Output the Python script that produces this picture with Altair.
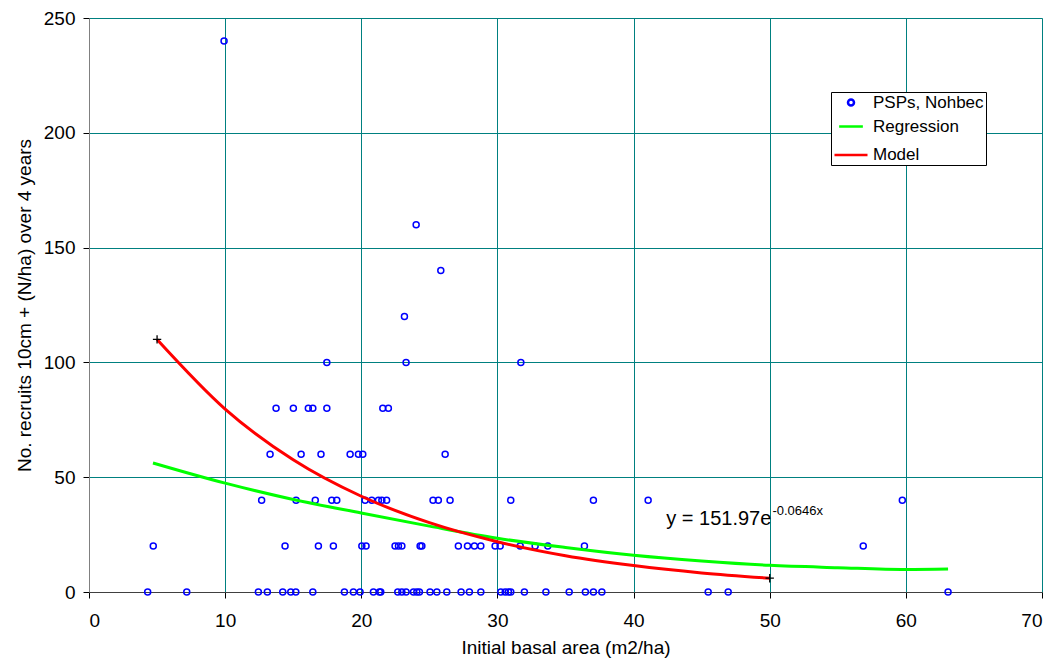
import altair as alt
import pandas as pd

# ---- scatter data: x values (basal area) grouped by recruit level ----
x_at_0 = [4.31, 7.18, 12.44, 13.10, 14.23, 14.82, 15.19, 16.44, 18.76, 19.42, 19.91,
          20.89, 21.33, 21.43, 22.68, 22.98, 23.29, 23.83, 24.08, 24.27, 25.05, 25.55,
          26.28, 27.33, 27.94, 28.78, 30.25, 30.57, 30.81, 30.98, 31.98, 33.56, 35.27,
          36.46, 37.05, 37.67, 45.48, 46.95, 63.1]
x_at_20 = [4.72, 14.40, 16.85, 17.95, 20.04, 20.35, 22.48, 22.73, 22.98, 24.32, 24.45,
           27.13, 27.80, 28.31, 28.78, 29.83, 30.20, 31.67, 32.77, 33.70, 36.39, 56.87]
x_at_40 = [12.68, 15.21, 16.62, 17.83, 18.20, 20.28, 20.77, 21.26, 21.51, 21.86, 25.27,
           25.66, 26.52, 30.98, 37.05, 41.07, 59.74]
x_at_60 = [13.30, 15.58, 17.04, 19.18, 19.79, 20.11, 26.16]
x_at_80 = [13.74, 15.01, 16.11, 16.44, 17.47, 21.58, 21.99]
x_at_100 = [17.47, 23.29, 31.72]
x_at_120 = [23.17]
x_at_140 = [25.84]
x_at_160 = [24.03]
x_at_240 = [9.92]

levels = [0, 20, 40, 60, 80, 100, 120, 140, 160, 240]
groups = [x_at_0, x_at_20, x_at_40, x_at_60, x_at_80, x_at_100, x_at_120, x_at_140,
          x_at_160, x_at_240]

# ---- regression curve (green) ----
reg_x = [4.7, 10, 15, 20, 25, 30, 35, 40, 45, 50, 55, 60, 63.1]
reg_y = [56.2, 47.4, 40.3, 34.4, 28.7, 23.4, 19.4, 16.0, 13.5, 11.6, 10.6, 9.8, 10.0]

# ---- model curve (red) ----
model_x = [5, 10, 15, 20, 25, 30, 35, 40, 45, 50]
model_y = [110, 79.7, 57.6, 41.7, 30.2, 21.9, 15.8, 11.5, 8.3, 6.0]
model_end_x = [5, 50]
model_end_y = [110, 6]

series_names = ["PSPs, Nohbec", "Regression", "Model"]
series_colors = ["#0000FF", "#00FF00", "#FF0000"]

eq_main = "y = 151.97e"
eq_sup = "-0.0646x"
eq_main_pos = (42.4, 29.0)
eq_sup_pos = (50.2, 33.4)

FONT = "Liberation Sans"

psp_rows = []
for lvl, xs in zip(levels, groups):
    for xv in xs:
        psp_rows.append({"x": xv, "y": lvl, "series": series_names[0]})
psp_df = pd.DataFrame(psp_rows)
reg_df = pd.DataFrame({"x": reg_x, "y": reg_y})
model_df = pd.DataFrame({"x": model_x, "y": model_y})
ends_df = pd.DataFrame({"x": model_end_x, "y": model_end_y})
eq_df = pd.DataFrame({"x": [eq_main_pos[0]], "y": [eq_main_pos[1]], "t": [eq_main]})
sup_df = pd.DataFrame({"x": [eq_sup_pos[0]], "y": [eq_sup_pos[1]], "t": [eq_sup]})

xscale = alt.Scale(domain=[0, 70], nice=False, zero=False)
yscale = alt.Scale(domain=[0, 250], nice=False)

xax = alt.Axis(title="Initial basal area (m2/ha)", values=list(range(0, 71, 10)),
               grid=True, gridColor="#008080", gridWidth=1, gridOpacity=1,
               domainColor="#404040", tickColor="#000000", tickSize=6,
               labelFontSize=19, titleFontSize=19, labelFont=FONT, titleFont=FONT,
               labelColor="#000", titleColor="#000", titleFontWeight="normal",
               labelPadding=13, titlePadding=8)
yax = alt.Axis(title="No. recruits 10cm + (N/ha) over 4 years", values=list(range(0, 251, 50)),
               grid=True, gridColor="#008080", gridWidth=1, gridOpacity=1,
               domainColor="#808080", tickColor="#000000", tickSize=6,
               labelFontSize=19, titleFontSize=19, labelFont=FONT, titleFont=FONT,
               labelColor="#000", titleColor="#000", titleFontWeight="normal",
               labelPadding=8, titlePadding=9)

points = alt.Chart(psp_df).mark_point(filled=False, strokeWidth=1.5, opacity=1).encode(
    x=alt.X("x:Q", scale=xscale, axis=xax),
    y=alt.Y("y:Q", scale=yscale, axis=yax),
    color=alt.Color("series:N", scale=alt.Scale(domain=series_names, range=series_colors),
                    legend=alt.Legend(title=None, orient="none", legendX=742, legendY=74,
                                      strokeColor="#000", fillColor="#fff", padding=2,
                                      labelFont=FONT, labelFontSize=17, labelColor="#000",
                                      symbolStrokeWidth=2.5, rowPadding=2,
                                      labelOffset=4)),
    shape=alt.Shape("series:N", scale=alt.Scale(domain=series_names,
                                                range=["circle", "stroke", "stroke"])),
    size=alt.Size("series:N", scale=alt.Scale(domain=series_names, range=[36, 1089, 1089])),
)

reg_line = alt.Chart(reg_df).mark_line(color="#00FF00", strokeWidth=3,
                                       interpolate="monotone").encode(
    x=alt.X("x:Q", scale=xscale), y=alt.Y("y:Q", scale=yscale))
model_line = alt.Chart(model_df).mark_line(color="#FF0000", strokeWidth=3,
                                           interpolate="monotone").encode(
    x=alt.X("x:Q", scale=xscale), y=alt.Y("y:Q", scale=yscale))
ends = alt.Chart(ends_df).mark_point(shape="M-1,0H1M0,-1V1", size=70, color="#000",
                                     strokeWidth=1.3, opacity=1).encode(
    x=alt.X("x:Q", scale=xscale), y=alt.Y("y:Q", scale=yscale))
eq_text = alt.Chart(eq_df).mark_text(align="left", baseline="alphabetic", fontSize=20,
                                     font=FONT, color="#000").encode(
    x=alt.X("x:Q", scale=xscale), y=alt.Y("y:Q", scale=yscale), text="t:N")
sup_text = alt.Chart(sup_df).mark_text(align="left", baseline="alphabetic", fontSize=13,
                                       font=FONT, color="#000").encode(
    x=alt.X("x:Q", scale=xscale), y=alt.Y("y:Q", scale=yscale), text="t:N")

chart = alt.layer(points, reg_line, model_line, ends, eq_text, sup_text).properties(
    width=953, height=574,
    autosize=alt.AutoSizeParams(type="none"),
    padding={"left": 81, "top": 10, "right": 4, "bottom": 66},
).configure_view(stroke=None).configure(background="#ffffff")

chart.save("out.html", embed_options={"renderer": "svg", "actions": False})
